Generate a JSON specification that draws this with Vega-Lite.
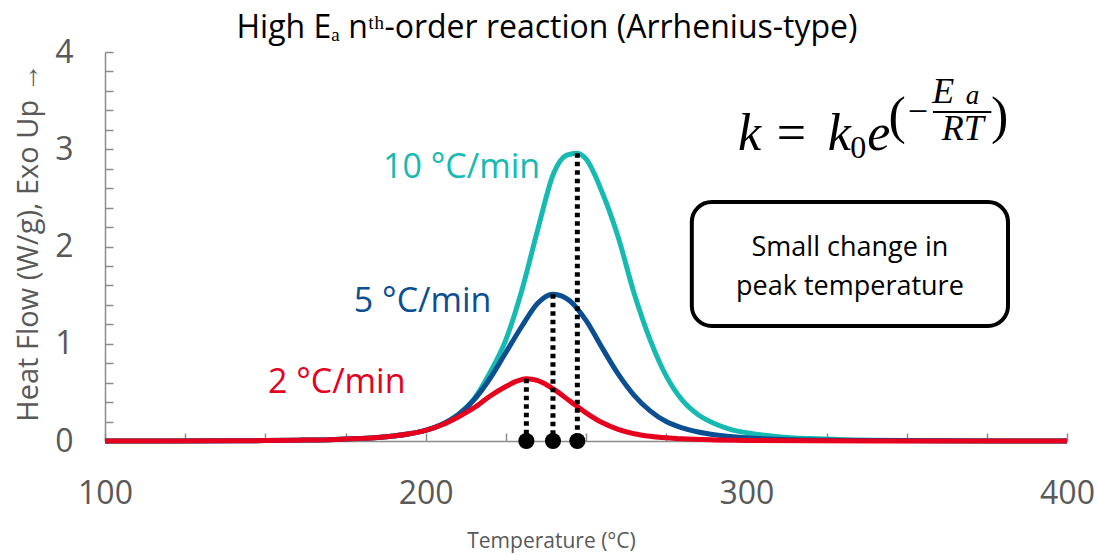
{
  "$schema": "https://vega.github.io/schema/vega-lite/v6.json",
  "width": 962,
  "height": 389,
  "autosize": {"type": "none"},
  "padding": {"left": 105, "top": 52, "right": 30, "bottom": 114},
  "background": "white",
  "config": {"view": {"stroke": null}, "font": "Open Sans"},
  "title": {
    "text": "High Eₐ nᵗʰ-order reaction (Arrhenius-type)",
    "font": "Open Sans",
    "fontSize": 32,
    "fontWeight": "normal",
    "color": "#000000",
    "anchor": "middle",
    "dx": -39,
    "offset": -9
  },
  "datasets": {
    "curves": [
      {"rate": "10 °C/min", "T": 100, "hf": 0},
      {"rate": "10 °C/min", "T": 120, "hf": 0},
      {"rate": "10 °C/min", "T": 140, "hf": 0.002},
      {"rate": "10 °C/min", "T": 150, "hf": 0.004},
      {"rate": "10 °C/min", "T": 160, "hf": 0.008},
      {"rate": "10 °C/min", "T": 170, "hf": 0.014},
      {"rate": "10 °C/min", "T": 175, "hf": 0.02},
      {"rate": "10 °C/min", "T": 180, "hf": 0.027},
      {"rate": "10 °C/min", "T": 185, "hf": 0.037},
      {"rate": "10 °C/min", "T": 190, "hf": 0.052},
      {"rate": "10 °C/min", "T": 195, "hf": 0.075},
      {"rate": "10 °C/min", "T": 200, "hf": 0.11},
      {"rate": "10 °C/min", "T": 205, "hf": 0.17},
      {"rate": "10 °C/min", "T": 210, "hf": 0.27},
      {"rate": "10 °C/min", "T": 215, "hf": 0.43},
      {"rate": "10 °C/min", "T": 220, "hf": 0.7},
      {"rate": "10 °C/min", "T": 225, "hf": 1.04},
      {"rate": "10 °C/min", "T": 230, "hf": 1.55},
      {"rate": "10 °C/min", "T": 235, "hf": 2.18},
      {"rate": "10 °C/min", "T": 240, "hf": 2.76},
      {"rate": "10 °C/min", "T": 244, "hf": 2.94},
      {"rate": "10 °C/min", "T": 247.3, "hf": 2.96},
      {"rate": "10 °C/min", "T": 250, "hf": 2.9},
      {"rate": "10 °C/min", "T": 255, "hf": 2.56},
      {"rate": "10 °C/min", "T": 260, "hf": 2.1},
      {"rate": "10 °C/min", "T": 265, "hf": 1.52},
      {"rate": "10 °C/min", "T": 270, "hf": 1.04},
      {"rate": "10 °C/min", "T": 275, "hf": 0.67},
      {"rate": "10 °C/min", "T": 280, "hf": 0.42},
      {"rate": "10 °C/min", "T": 285, "hf": 0.27},
      {"rate": "10 °C/min", "T": 290, "hf": 0.18},
      {"rate": "10 °C/min", "T": 295, "hf": 0.12},
      {"rate": "10 °C/min", "T": 300, "hf": 0.085},
      {"rate": "10 °C/min", "T": 310, "hf": 0.045},
      {"rate": "10 °C/min", "T": 320, "hf": 0.025},
      {"rate": "10 °C/min", "T": 330, "hf": 0.014},
      {"rate": "10 °C/min", "T": 340, "hf": 0.008},
      {"rate": "10 °C/min", "T": 360, "hf": 0.003},
      {"rate": "10 °C/min", "T": 380, "hf": 0.001},
      {"rate": "10 °C/min", "T": 400, "hf": 0},

      {"rate": "5 °C/min", "T": 100, "hf": 0},
      {"rate": "5 °C/min", "T": 120, "hf": 0},
      {"rate": "5 °C/min", "T": 140, "hf": 0.002},
      {"rate": "5 °C/min", "T": 150, "hf": 0.004},
      {"rate": "5 °C/min", "T": 160, "hf": 0.008},
      {"rate": "5 °C/min", "T": 170, "hf": 0.014},
      {"rate": "5 °C/min", "T": 175, "hf": 0.02},
      {"rate": "5 °C/min", "T": 180, "hf": 0.027},
      {"rate": "5 °C/min", "T": 185, "hf": 0.037},
      {"rate": "5 °C/min", "T": 190, "hf": 0.052},
      {"rate": "5 °C/min", "T": 195, "hf": 0.075},
      {"rate": "5 °C/min", "T": 200, "hf": 0.11},
      {"rate": "5 °C/min", "T": 205, "hf": 0.17},
      {"rate": "5 °C/min", "T": 210, "hf": 0.265},
      {"rate": "5 °C/min", "T": 215, "hf": 0.42},
      {"rate": "5 °C/min", "T": 220, "hf": 0.64},
      {"rate": "5 °C/min", "T": 225, "hf": 0.91},
      {"rate": "5 °C/min", "T": 230, "hf": 1.18},
      {"rate": "5 °C/min", "T": 235, "hf": 1.42},
      {"rate": "5 °C/min", "T": 239.7, "hf": 1.51},
      {"rate": "5 °C/min", "T": 245, "hf": 1.44},
      {"rate": "5 °C/min", "T": 250, "hf": 1.24},
      {"rate": "5 °C/min", "T": 255, "hf": 0.96},
      {"rate": "5 °C/min", "T": 260, "hf": 0.69},
      {"rate": "5 °C/min", "T": 265, "hf": 0.47},
      {"rate": "5 °C/min", "T": 270, "hf": 0.31},
      {"rate": "5 °C/min", "T": 275, "hf": 0.2},
      {"rate": "5 °C/min", "T": 280, "hf": 0.135},
      {"rate": "5 °C/min", "T": 285, "hf": 0.092},
      {"rate": "5 °C/min", "T": 290, "hf": 0.064},
      {"rate": "5 °C/min", "T": 300, "hf": 0.033},
      {"rate": "5 °C/min", "T": 310, "hf": 0.018},
      {"rate": "5 °C/min", "T": 320, "hf": 0.01},
      {"rate": "5 °C/min", "T": 340, "hf": 0.004},
      {"rate": "5 °C/min", "T": 360, "hf": 0.002},
      {"rate": "5 °C/min", "T": 400, "hf": 0},

      {"rate": "2 °C/min", "T": 100, "hf": 0},
      {"rate": "2 °C/min", "T": 120, "hf": 0},
      {"rate": "2 °C/min", "T": 140, "hf": 0.002},
      {"rate": "2 °C/min", "T": 150, "hf": 0.004},
      {"rate": "2 °C/min", "T": 160, "hf": 0.008},
      {"rate": "2 °C/min", "T": 170, "hf": 0.014},
      {"rate": "2 °C/min", "T": 175, "hf": 0.02},
      {"rate": "2 °C/min", "T": 180, "hf": 0.027},
      {"rate": "2 °C/min", "T": 185, "hf": 0.037},
      {"rate": "2 °C/min", "T": 190, "hf": 0.052},
      {"rate": "2 °C/min", "T": 195, "hf": 0.075},
      {"rate": "2 °C/min", "T": 200, "hf": 0.11},
      {"rate": "2 °C/min", "T": 205, "hf": 0.165},
      {"rate": "2 °C/min", "T": 210, "hf": 0.245},
      {"rate": "2 °C/min", "T": 215, "hf": 0.34},
      {"rate": "2 °C/min", "T": 220, "hf": 0.46},
      {"rate": "2 °C/min", "T": 225, "hf": 0.56},
      {"rate": "2 °C/min", "T": 228, "hf": 0.61},
      {"rate": "2 °C/min", "T": 231.4, "hf": 0.64},
      {"rate": "2 °C/min", "T": 235, "hf": 0.62},
      {"rate": "2 °C/min", "T": 240, "hf": 0.53},
      {"rate": "2 °C/min", "T": 245, "hf": 0.41},
      {"rate": "2 °C/min", "T": 250, "hf": 0.29},
      {"rate": "2 °C/min", "T": 255, "hf": 0.19},
      {"rate": "2 °C/min", "T": 260, "hf": 0.12},
      {"rate": "2 °C/min", "T": 265, "hf": 0.075},
      {"rate": "2 °C/min", "T": 270, "hf": 0.048},
      {"rate": "2 °C/min", "T": 280, "hf": 0.022},
      {"rate": "2 °C/min", "T": 290, "hf": 0.011},
      {"rate": "2 °C/min", "T": 300, "hf": 0.006},
      {"rate": "2 °C/min", "T": 320, "hf": 0.002},
      {"rate": "2 °C/min", "T": 340, "hf": 0.001},
      {"rate": "2 °C/min", "T": 400, "hf": 0}
    ],
    "peaks": [
      {"rate": "2 °C/min", "T": 231.4, "hf": 0.64},
      {"rate": "5 °C/min", "T": 239.7, "hf": 1.51},
      {"rate": "10 °C/min", "T": 247.3, "hf": 2.96}
    ],
    "peakFeet": [
      {"rate": "2 °C/min", "T": 231.4, "hf": 0},
      {"rate": "5 °C/min", "T": 239.7, "hf": 0},
      {"rate": "10 °C/min", "T": 247.3, "hf": 0}
    ],
    "seriesLabels": [
      {"rate": "10 °C/min", "T": 186.7, "hf": 2.81},
      {"rate": "5 °C/min", "T": 177.6, "hf": 1.43},
      {"rate": "2 °C/min", "T": 150.8, "hf": 0.6}
    ]
  },
  "encoding": {
    "x": {
      "field": "T",
      "type": "quantitative",
      "title": "Temperature (°C)",
      "scale": {"domain": [100, 400], "nice": false, "zero": false},
      "axis": {
        "values": [100, 125, 150, 175, 200, 225, 250, 275, 300, 325, 350, 375, 400],
        "labelExpr": "datum.value % 100 === 0 ? datum.label : ''",
        "grid": false,
        "domainColor": "#8C8C8C",
        "domainWidth": 1.5,
        "tickColor": "#8C8C8C",
        "tickWidth": 1.5,
        "tickSize": -8,
        "labelFont": "Open Sans",
        "labelFontSize": 32,
        "labelColor": "#595959",
        "labelPadding": 45,
        "labelFlush": false,
        "titleFont": "Open Sans",
        "titleFontSize": 21,
        "titleFontWeight": "normal",
        "titleColor": "#595959",
        "titleX": 446,
        "titleY": 106,
        "titleBaseline": "alphabetic",
        "titleAlign": "center"
      }
    },
    "y": {
      "field": "hf",
      "type": "quantitative",
      "title": "Heat Flow (W/g), Exo Up →",
      "scale": {"domain": [0, 4], "nice": false},
      "axis": {
        "values": [0, 0.2, 0.4, 0.6, 0.8, 1, 1.2, 1.4, 1.6, 1.8, 2, 2.2, 2.4, 2.6, 2.8, 3, 3.2, 3.4, 3.6, 3.8, 4],
        "labelExpr": "datum.value % 1 === 0 ? format(datum.value, 'd') : ''",
        "grid": false,
        "domainColor": "#8C8C8C",
        "domainWidth": 1.5,
        "tickColor": "#8C8C8C",
        "tickWidth": 1.5,
        "tickSize": -8,
        "labelFont": "Open Sans",
        "labelFontSize": 32,
        "labelColor": "#595959",
        "labelPadding": 40,
        "labelFlush": false,
        "titleFont": "Open Sans",
        "titleFontSize": 29,
        "titleFontWeight": "normal",
        "titleColor": "#595959",
        "titleAngle": -90,
        "titleX": -77,
        "titleY": 190,
        "titleAlign": "center",
        "titleBaseline": "middle"
      }
    }
  },
  "layer": [
    {
      "data": {"name": "curves"},
      "transform": [{"filter": "datum.rate === '10 °C/min'"}],
      "mark": {"type": "line", "interpolate": "monotone", "strokeWidth": 5, "color": "#17BAB2", "strokeCap": "butt"}
    },
    {
      "data": {"name": "curves"},
      "transform": [{"filter": "datum.rate === '5 °C/min'"}],
      "mark": {"type": "line", "interpolate": "monotone", "strokeWidth": 5, "color": "#0B4F92", "strokeCap": "butt"}
    },
    {
      "data": {"name": "curves"},
      "transform": [{"filter": "datum.rate === '2 °C/min'"}],
      "mark": {"type": "line", "interpolate": "monotone", "strokeWidth": 5, "color": "#E6001E", "strokeCap": "butt"}
    },
    {
      "data": {"name": "peaks"},
      "mark": {"type": "rule", "color": "#000000", "strokeWidth": 5, "strokeDash": [4.5, 4]},
      "encoding": {"y2": {"datum": 0}}
    },
    {
      "data": {"name": "peakFeet"},
      "mark": {"type": "point", "filled": true, "color": "#000000", "size": 260, "opacity": 1}
    },
    {
      "data": {"name": "seriesLabels"},
      "mark": {"type": "text", "align": "left", "baseline": "middle", "font": "Open Sans", "fontSize": 34},
      "encoding": {
        "text": {"field": "rate"},
        "color": {
          "field": "rate",
          "type": "nominal",
          "scale": {"domain": ["10 °C/min", "5 °C/min", "2 °C/min"], "range": ["#17BAB2", "#0B4F92", "#E6001E"]},
          "legend": null
        }
      }
    },
    {
      "data": {"values": [{"T": 283.0, "T2": 381.6, "hf": 2.458, "hf2": 1.183}]},
      "mark": {"type": "rect", "fill": "white", "stroke": "#000000", "strokeWidth": 4, "cornerRadius": 20},
      "encoding": {"x2": {"field": "T2"}, "y2": {"field": "hf2"}}
    },
    {
      "data": {"values": [{"T": 332.3, "hf": 1.985, "note": "Small change in\npeak temperature"}]},
      "mark": {"type": "text", "align": "center", "baseline": "middle", "font": "Open Sans", "fontSize": 27, "lineBreak": "\n", "lineHeight": 39, "color": "#000000"},
      "encoding": {"text": {"field": "note"}}
    },
    {
      "data": {"values": [{"T": 297.4, "hf": 2.992, "s": "k"}, {"T": 325.4, "hf": 2.992, "s": "k"}, {"T": 337.7, "hf": 2.992, "s": "e"}]},
      "mark": {"type": "text", "align": "left", "baseline": "alphabetic", "font": "Liberation Serif", "fontStyle": "italic", "fontSize": 52, "color": "#000000"},
      "encoding": {"text": {"field": "s"}}
    },
    {
      "data": {"values": [{"T": 309.5, "hf": 2.992, "s": "="}, {"T": 344.3, "hf": 3.167, "s": "("}, {"T": 376.3, "hf": 3.167, "s": ")"}]},
      "mark": {"type": "text", "align": "left", "baseline": "alphabetic", "font": "Liberation Serif", "fontSize": 52, "color": "#000000"},
      "encoding": {"text": {"field": "s"}}
    },
    {
      "data": {"values": [{"T": 332.4, "hf": 2.91, "s": "0"}]},
      "mark": {"type": "text", "align": "left", "baseline": "alphabetic", "font": "Liberation Serif", "fontSize": 32, "color": "#000000"},
      "encoding": {"text": {"field": "s"}}
    },
    {
      "data": {"values": [{"T": 350.3, "hf": 3.27, "s": "−"}]},
      "mark": {"type": "text", "align": "left", "baseline": "alphabetic", "font": "Liberation Serif", "fontSize": 36, "color": "#000000"},
      "encoding": {"text": {"field": "s"}}
    },
    {
      "data": {"values": [{"T": 358.0, "hf": 3.476, "s": "E"}]},
      "mark": {"type": "text", "align": "left", "baseline": "alphabetic", "font": "Liberation Serif", "fontStyle": "italic", "fontSize": 36, "color": "#000000"},
      "encoding": {"text": {"field": "s"}}
    },
    {
      "data": {"values": [{"T": 368.4, "hf": 3.47, "s": "a"}]},
      "mark": {"type": "text", "align": "left", "baseline": "alphabetic", "font": "Liberation Serif", "fontStyle": "italic", "fontSize": 27, "color": "#000000"},
      "encoding": {"text": {"field": "s"}}
    },
    {
      "data": {"values": [{"T": 367.5, "hf": 3.095, "s": "RT"}]},
      "mark": {"type": "text", "align": "center", "baseline": "alphabetic", "font": "Liberation Serif", "fontStyle": "italic", "fontSize": 36, "color": "#000000"},
      "encoding": {"text": {"field": "s"}}
    },
    {
      "data": {"values": [{"T": 358.2, "T2": 376.4, "hf": 3.383}]},
      "mark": {"type": "rule", "color": "#000000", "strokeWidth": 2},
      "encoding": {"x2": {"field": "T2"}}
    }
  ]
}
